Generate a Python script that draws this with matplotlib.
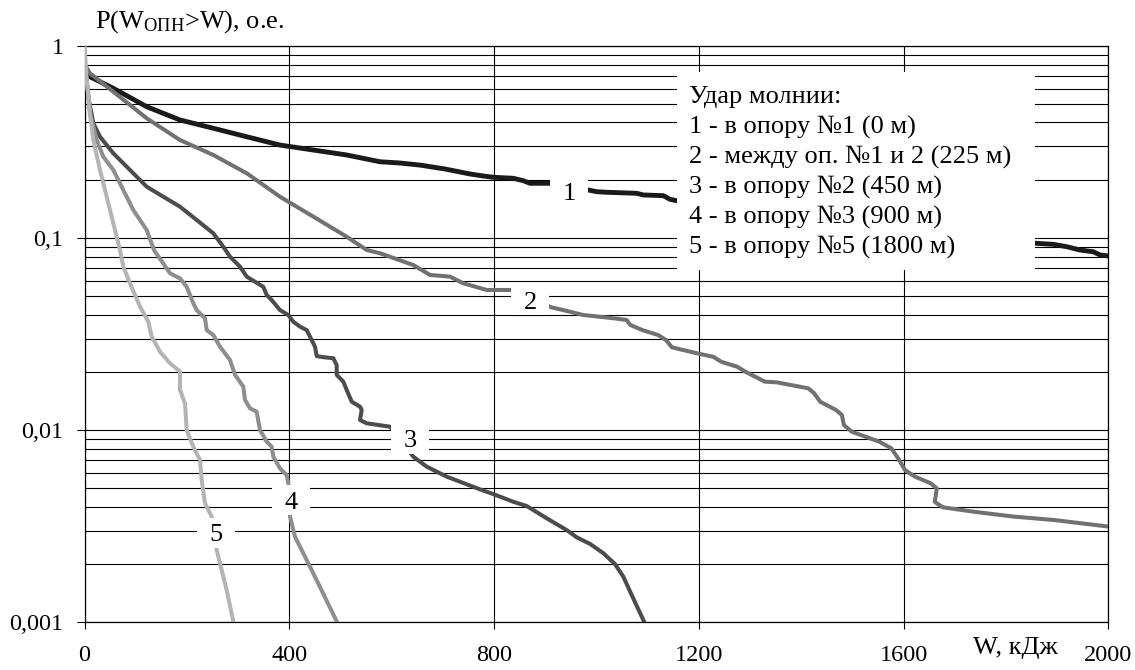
import matplotlib
matplotlib.use('Agg')
import matplotlib.pyplot as plt
from matplotlib.patches import Rectangle
from matplotlib.transforms import ScaledTranslation
from matplotlib.ticker import FixedLocator, NullFormatter

plt.rcParams['font.family'] = ['Liberation Serif', 'DejaVu Serif']
plt.rcParams['mathtext.fontset'] = 'custom'
plt.rcParams['mathtext.rm'] = 'Liberation Serif'
plt.rcParams['mathtext.it'] = 'Liberation Serif:italic'
plt.rcParams['mathtext.bf'] = 'Liberation Serif:bold'

# ---------------- data ----------------
w1 = [0, 10.7, 56.3, 121.5, 186.5, 251.6, 316.8, 381.8, 446.9, 512.1, 577.1, 616, 655, 704,
      752.9, 778.9, 798.4, 837.5, 857, 870.1, 909.2, 984, 1000.4, 1019.9, 1078.5, 1091.4,
      1130.5, 1143.6, 1156.6, 1859.8, 1892.2, 1918.4, 1944.3, 1970.3, 1983.4, 2000]
p1 = [0.78, 0.692, 0.602, 0.483, 0.412, 0.373, 0.337, 0.305, 0.2874, 0.2708, 0.2497, 0.246,
      0.240, 0.229, 0.2157, 0.2105, 0.2073, 0.2048, 0.199, 0.1929, 0.1929, 0.178, 0.1744,
      0.1732, 0.1711, 0.1677, 0.1663, 0.1592, 0.1566, 0.0939, 0.0928, 0.0902, 0.0867,
      0.0849, 0.0817, 0.0807]

w2 = [0, 10.7, 56.3, 121.5, 186.5, 251.6, 316.8, 381.8, 446.9, 512.1, 551.2, 577.1, 642.2,
      674.8, 713.9, 739.8, 785.5, 834.4, 911.9, 935, 973.6, 1035.3, 1058.6, 1066.2, 1089.5,
      1120.3, 1135.7, 1147.3, 1197.5, 1228.3, 1243.8, 1274.8, 1290.2, 1328.7, 1351.9,
      1413.7, 1425.2, 1436.9, 1467.8, 1479.3, 1483.2, 1498.6, 1552.5, 1575.8, 1591.2,
      1602.7, 1622, 1652.9, 1664.6, 1660.7, 1676.2, 1737.9, 1815, 1892.4, 2000]
p2 = [0.80, 0.721, 0.578, 0.4204, 0.324, 0.2708, 0.2175, 0.1642, 0.1293, 0.1017, 0.0867,
      0.0834, 0.0724, 0.0643, 0.0630, 0.0582, 0.0537, 0.0537, 0.0436, 0.0422, 0.0398,
      0.0382, 0.0375, 0.0353, 0.0332, 0.0313, 0.0295, 0.0270, 0.0251, 0.0241, 0.0227,
      0.0214, 0.0202, 0.0179, 0.01775, 0.01652, 0.01556, 0.01407, 0.01274, 0.0120,
      0.01064, 0.00982, 0.00871, 0.00805, 0.0070, 0.0062, 0.00573, 0.00529, 0.00498,
      0.00424, 0.00397, 0.00376, 0.00355, 0.00341, 0.00315]

w3 = [0, 7.4, 17.2, 30.3, 56.3, 88.9, 121.5, 153.9, 186.5, 219.1, 251.6, 271.1, 284.2,
      303.7, 316.8, 349.2, 355.9, 365.6, 381.8, 398, 407.8, 420.9, 434, 440.4, 450.2,
      453.5, 466.4, 485.9, 492.6, 492.6, 505.5, 512.1, 521.9, 538.1, 541.4, 538.1, 551.2,
      596.7, 642.2, 668.4, 707.4, 772.5, 798.4, 837.5, 863.6, 902.7, 941.8, 961.3, 987.3,
      1013.3, 1036.1, 1052.3, 1071.9, 1092.8]
p3 = [0.80, 0.5445, 0.396, 0.337, 0.2763, 0.2262, 0.1852, 0.1642, 0.1457, 0.1243, 0.1059,
      0.0902, 0.080, 0.0710, 0.0630, 0.0558, 0.0506, 0.0476, 0.0422, 0.0398, 0.0367,
      0.0346, 0.0332, 0.0307, 0.0272, 0.0243, 0.0240, 0.0237, 0.0218, 0.0194, 0.0179,
      0.0162, 0.01407, 0.01326, 0.01274, 0.0113, 0.01086, 0.01043, 0.00728, 0.00646,
      0.00573, 0.00492, 0.00465, 0.00424, 0.00403, 0.00348, 0.00302, 0.00277, 0.00256,
      0.00229, 0.00201, 0.00173, 0.00133, 0.00101]

w4 = [0, 6.8, 10.7, 23.8, 36.7, 56.3, 75.8, 95.3, 121.5, 135.7, 167, 186.5, 199.6, 212.5,
      219.1, 235.4, 238.7, 251.6, 264.6, 284.2, 294, 310.2, 313.5, 323.2, 336.3, 342.8,
      355.9, 365.6, 368.8, 381.8, 394.9, 398, 401.4, 411.1, 434, 459.8, 492.6]
p4 = [0.80, 0.59, 0.4463, 0.324, 0.2653, 0.2262, 0.178, 0.140, 0.1102, 0.0867, 0.0656,
      0.0617, 0.0558, 0.0458, 0.0422, 0.0382, 0.0332, 0.0313, 0.0272, 0.0232, 0.0194,
      0.01684, 0.01437, 0.0130, 0.01248, 0.01002, 0.00871, 0.0082, 0.00728, 0.00633,
      0.00584, 0.00529, 0.00355, 0.00279, 0.00211, 0.00153, 0.00101]

w5 = [0, 4.3, 10.7, 17.2, 30.3, 43.4, 56.3, 69.3, 75.8, 88.9, 108.4, 124.6, 131.3, 147.5,
      167, 186.5, 186.5, 196.3, 199.6, 212.5, 225.6, 228.9, 235.4, 248.4, 258.2, 264.6,
      277.7, 290.6]
p5 = [1.0, 0.665, 0.4463, 0.324, 0.2262, 0.1642, 0.1194, 0.0867, 0.0710, 0.0582, 0.0440,
      0.0367, 0.0307, 0.0256, 0.0223, 0.0202, 0.0162, 0.0138, 0.0100, 0.0082, 0.0070,
      0.0055, 0.00416, 0.00355, 0.00238, 0.00203, 0.00147, 0.00101]

curve_labels = ['1', '2', '3', '4', '5']
label_w = [946, 871, 635.7, 403.3, 255.9]
label_p = [0.1738, 0.0476, 0.0090, 0.00433, 0.00292]

legend_lines = ['Удар молнии:',
                '1 - в опору №1 (0 м)',
                '2 - между оп. №1 и 2 (225 м)',
                '3 - в опору №2 (450 м)',
                '4 - в опору №3 (900 м)',
                '5 - в опору №5 (1800 м)']

x_ticks = [0, 400, 800, 1200, 1600, 2000]
y_ticks = [1, 0.1, 0.01, 0.001]
y_tick_labels = ['1', '0,1', '0,01', '0,001']
y_minor = [m * 10.0 ** e for e in (-3, -2, -1) for m in range(2, 10)]

# ---------------- styles ----------------
colors = ['#1a1a1a', '#717171', '#4c4c4c', '#8e8e8e', '#b4b4b4']
widths = [3.5, 2.9, 2.9, 2.9, 2.9]

fig = plt.figure(figsize=(11.35, 6.7), dpi=100)
ax = fig.add_axes([0.07445, 0.07119, 0.90220, 0.86015])

series = [(w1, p1), (w2, p2), (w3, p3), (w4, p4), (w5, p5)]
for (w, p), c, lw in zip(series, colors, widths):
    ax.plot(w, p, color=c, lw=lw, zorder=3, solid_joinstyle='round')

ax.set_yscale('log')
ax.set_xlim(0, 2000)
ax.set_ylim(0.001, 1)

ax.set_xticks(x_ticks)
ax.set_xticklabels([str(t) for t in x_ticks])
ax.set_yticks(y_ticks)
ax.set_yticklabels(y_tick_labels)
ax.yaxis.set_minor_locator(FixedLocator(y_minor))
ax.yaxis.set_minor_formatter(NullFormatter())
ax.xaxis.set_minor_locator(FixedLocator([]))

ax.tick_params(axis='x', which='major', direction='out', length=5, width=0.8,
               labelsize=17.5, pad=11.5, color='black')
ax.tick_params(axis='y', which='major', direction='out', length=6, width=0.8,
               labelsize=17.5, pad=9, color='black')
ax.tick_params(axis='y', which='minor', length=0)

ax.set_axisbelow(True)
ax.grid(True, which='major', axis='both', color='black', lw=0.8)
ax.grid(True, which='minor', axis='y', color='black', lw=0.8)
for s in ax.spines.values():
    s.set_color('black')
    s.set_linewidth(0.9)

# white boxes with curve numbers
for txt, lw_, lp_ in zip(curve_labels, label_w, label_p):
    tr = fig.dpi_scale_trans + ScaledTranslation(lw_, lp_, ax.transData)
    ax.add_patch(Rectangle((-0.19, -0.15), 0.38, 0.30, transform=tr,
                           facecolor='white', edgecolor='none', zorder=6, clip_on=False))
    ax.text(lw_, lp_, txt, ha='center', va='center_baseline', fontsize=19, zorder=7)

# legend box
ax.add_patch(Rectangle((0.5786, 0.6113), 0.3496, 0.3436, transform=ax.transAxes,
                       facecolor='white', edgecolor='none', zorder=5))
leg_y = [0.9006, 0.8485, 0.7965, 0.7444, 0.6923, 0.6403]
for line, yy in zip(legend_lines, leg_y):
    ax.text(0.5903, yy, line, transform=ax.transAxes, ha='left', va='baseline',
            fontsize=19, zorder=7)

# axis titles
fig.text(0.0837, 0.9590, r'P(W$_{\mathregular{ОПН}}$>W), о.е.', ha='left', va='baseline',
         fontsize=19)
fig.text(0.8573, 0.0240, 'W, кДж', ha='left', va='baseline', fontsize=19)

fig.savefig('out.png', dpi=100)
